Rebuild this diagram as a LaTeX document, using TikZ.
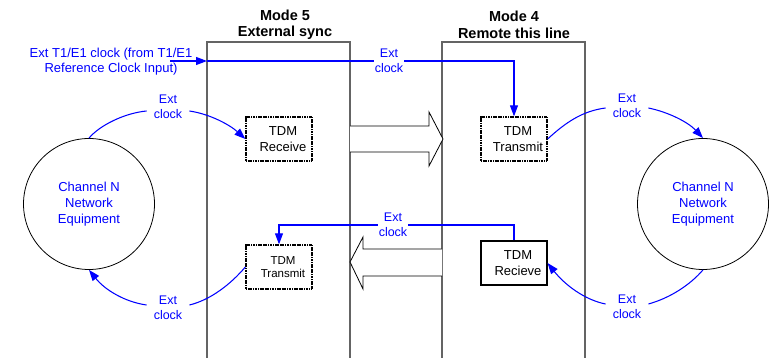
\documentclass[tikz,border=0pt]{standalone}
\usepackage{fontspec}
\setmainfont{Liberation Sans}
\usetikzlibrary{arrows.meta}
\definecolor{linkblue}{RGB}{0,0,255}
\definecolor{framegray}{RGB}{100,100,100}
% two-line block caption, set slightly right of the block centre
\newcommand\blocktext[2]{\hspace*{8pt}#1\\\hspace*{8pt}#2}

\begin{document}
\begin{tikzpicture}[x=1pt,y=-1pt,
  blu/.style={color=linkblue, line width=1.05pt},
  tip/.style={-{Triangle[length=11pt,width=8pt]}},
  lbl/.style={text=linkblue, font=\fontsize{12.5}{15}\selectfont, align=center,
              inner xsep=7pt, inner ysep=0pt},
  frame/.style={draw=framegray, line width=1.2pt},
  title/.style={font=\bfseries\fontsize{14.5}{16.5}\selectfont, align=center, inner sep=0pt},
  tdm/.style={draw=black, line width=1.3pt, dash pattern=on 1.2pt off 0.5pt,
              fill=white, minimum width=66pt, minimum height=44pt, align=center,
              inner sep=0pt, font=\fontsize{13}{16}\selectfont},
  tdmsmall/.style={font=\fontsize{11.5}{13.5}\selectfont},
  netw/.style={circle, draw=black, line width=0.8pt, minimum size=131pt, inner sep=0pt,
               text=linkblue, align=center, font=\fontsize{13}{16}\selectfont},
  hollow/.style={draw=black, line width=0.8pt, fill=white, line join=miter}
]
\useasboundingbox (0,0) rectangle (772,358);

% mode headings
\node[title] (t5) at (285,25) {Mode 5\\External sync};
\node[title] (t4) at (514,25) {Mode 4\\Remote this line};

% mode frames (open at the bottom)
\draw[frame] (207,358) -- (207,42) -- (350,42) -- (350,358);
\draw[frame] (442,358) -- (442,42) -- (585,42) -- (585,358);

% hollow data-flow arrows between the modes
\draw[hollow] (350,126) -- (429,126) -- (429,112) -- (443,139) -- (429,166) -- (429,152) -- (350,152);
\draw[hollow] (442,249) -- (363,249) -- (363,237) -- (350,262) -- (363,289) -- (363,276) -- (442,276);

% TDM blocks
\node[tdm] (rxL) at (279,139) {\blocktext{TDM}{Receive}};
\node[tdm] (txR) at (514,139) {\blocktext{TDM}{Transmit}};
\node[tdm, tdmsmall] (txL) at (279,267) {\blocktext{TDM}{Transmit}};
\node[tdm, solid, line width=1.1pt] (rxR) at (514,263) {\blocktext{TDM}{Recieve}};

% network equipment
\node[netw] (cL) at (89,204) {Channel N\\Network\\Equipment};
\node[netw] (cR) at (703,204) {Channel N\\Network\\Equipment};

% clock labels
\node[lbl, inner xsep=0pt, font=\fontsize{13}{15}\selectfont] (ref) at (111,62)
  {Ext T1/E1 clock (from T1/E1\\Reference Clock Input)};
\node[lbl] (e1) at (168,107) {Ext\\clock};
\node[lbl] (e2) at (627,106) {Ext\\clock};
\node[lbl] (e3) at (168,308) {Ext\\clock};
\node[lbl] (e4) at (627,307) {Ext\\clock};
\node[lbl, inner xsep=1pt] (e5) at (389,61) {Ext\\clock};
\node[lbl, inner xsep=1pt] (e6) at (393,225) {Ext\\clock};

% external reference clock path
\coordinate (src) at (170,61);
\coordinate (m5in) at (207,61);
\draw[blu, tip] (src) -- (m5in);
\draw[blu] (m5in) -- (e5.west |- m5in);
\draw[blu, tip] (e5.east |- m5in) -| (txR.north);

% recovered clock back to mode 5
\draw[blu] (rxR.north) |- (e6.east);
\draw[blu, tip] (e6.west) -| (txL.north);

% clocks to and from the network equipment
\draw[blu] (cL.north) .. controls (100,125) and (125,113) .. ([yshift=-4pt]e1.west);
\draw[blu, tip] ([yshift=-4pt]e1.east) .. controls (210,114) and (230,125) .. (rxL.west);
\draw[blu] (txR.east) .. controls (565,123) and (582,111) .. ([yshift=-2pt]e2.west);
\draw[blu, tip] ([yshift=-2pt]e2.east) .. controls (668,112) and (688,122) .. (cR.north);
\draw[blu] (txL.west) .. controls (230,285) and (210,300) .. ([yshift=3pt]e3.east);
\draw[blu, tip] ([yshift=3pt]e3.west) .. controls (125,302) and (105,290) .. (cL.south);
\draw[blu] (cR.south) .. controls (690,285) and (670,298) .. ([yshift=3pt]e4.east);
\draw[blu, tip] ([yshift=3pt]e4.west) .. controls (585,300) and (565,285) .. (rxR.east);
\end{tikzpicture}
\end{document}
